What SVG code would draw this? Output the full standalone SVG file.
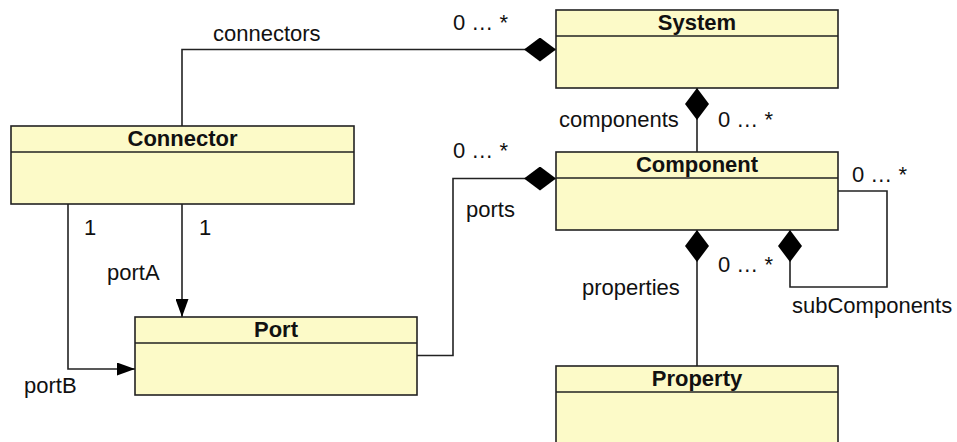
<svg xmlns="http://www.w3.org/2000/svg" width="957" height="442" viewBox="0 0 957 442">
  <style>
    .box { fill: #FCFAC8; stroke: #222; stroke-width: 1.6; }
    .sep { stroke: #222; stroke-width: 1.6; }
    .title { font-family: "Liberation Sans", Arial, sans-serif; font-size: 22px; font-weight: bold; fill: #111; text-anchor: middle; }
    .lbl { font-family: "Liberation Sans", Arial, sans-serif; font-size: 22px; fill: #111; }
    .conn { fill: none; stroke: #222; stroke-width: 1.6; }
    .comp { marker-start: url(#diamond); }
    .nav { marker-end: url(#arrow); }
  </style>
  <defs>
    <marker id="diamond" viewBox="0 -12 32 24" refX="0" refY="0" markerWidth="32" markerHeight="24" markerUnits="userSpaceOnUse" orient="auto">
      <path d="M0,0 L16,-12 L32,0 L16,12 Z" fill="#000"/>
    </marker>
    <marker id="arrow" viewBox="0 -6.5 18 13" refX="18" refY="0" markerWidth="18" markerHeight="13" markerUnits="userSpaceOnUse" orient="auto">
      <path d="M0,-6.5 L18,0 L0,6.5 Z" fill="#000"/>
    </marker>
  </defs>

  <g id="connectors">
    <path class="conn comp" d="M556,49.5 L182,49.5 L182,126"/>
    <path class="conn comp" d="M697,88 L697,152"/>
    <path class="conn comp" d="M556,178.5 L453,178.5 L453,355.5 L417,355.5"/>
    <path class="conn comp" d="M697,230 L697,366"/>
    <path class="conn comp" d="M790,230 L790,287 L887,287 L887,191 L838,191"/>
    <path class="conn nav" d="M182,204 L182,317"/>
    <path class="conn nav" d="M68,204 L68,369 L135,369"/>
    <text class="lbl" x="213" y="41">connectors</text>
    <text class="lbl" x="453" y="30">0 … *</text>
    <text class="lbl" x="559" y="127">components</text>
    <text class="lbl" x="718" y="127">0 … *</text>
    <text class="lbl" x="453" y="158">0 … *</text>
    <text class="lbl" x="466" y="217">ports</text>
    <text class="lbl" x="852" y="182">0 … *</text>
    <text class="lbl" x="84" y="235">1</text>
    <text class="lbl" x="199" y="235">1</text>
    <text class="lbl" x="107" y="280">portA</text>
    <text class="lbl" x="24" y="393">portB</text>
    <text class="lbl" x="582" y="295">properties</text>
    <text class="lbl" x="718" y="272">0 … *</text>
    <text class="lbl" x="792" y="313">subComponents</text>
  </g>

  <g id="System">
    <rect class="box" x="556" y="10" width="282" height="78"/>
    <line class="sep" x1="556" y1="36" x2="838" y2="36"/>
    <text class="title" x="697" y="30">System</text>
  </g>
  <g id="Connector">
    <rect class="box" x="11" y="126" width="343" height="78"/>
    <line class="sep" x1="11" y1="152" x2="354" y2="152"/>
    <text class="title" x="182.5" y="146">Connector</text>
  </g>
  <g id="Component">
    <rect class="box" x="556" y="152" width="282" height="78"/>
    <line class="sep" x1="556" y1="178" x2="838" y2="178"/>
    <text class="title" x="697" y="172">Component</text>
  </g>
  <g id="Port">
    <rect class="box" x="135" y="317" width="282" height="78"/>
    <line class="sep" x1="135" y1="343" x2="417" y2="343"/>
    <text class="title" x="276" y="337">Port</text>
  </g>
  <g id="Property">
    <rect class="box" x="556" y="366" width="282" height="78"/>
    <line class="sep" x1="556" y1="392" x2="838" y2="392"/>
    <text class="title" x="697" y="386">Property</text>
  </g>
</svg>
